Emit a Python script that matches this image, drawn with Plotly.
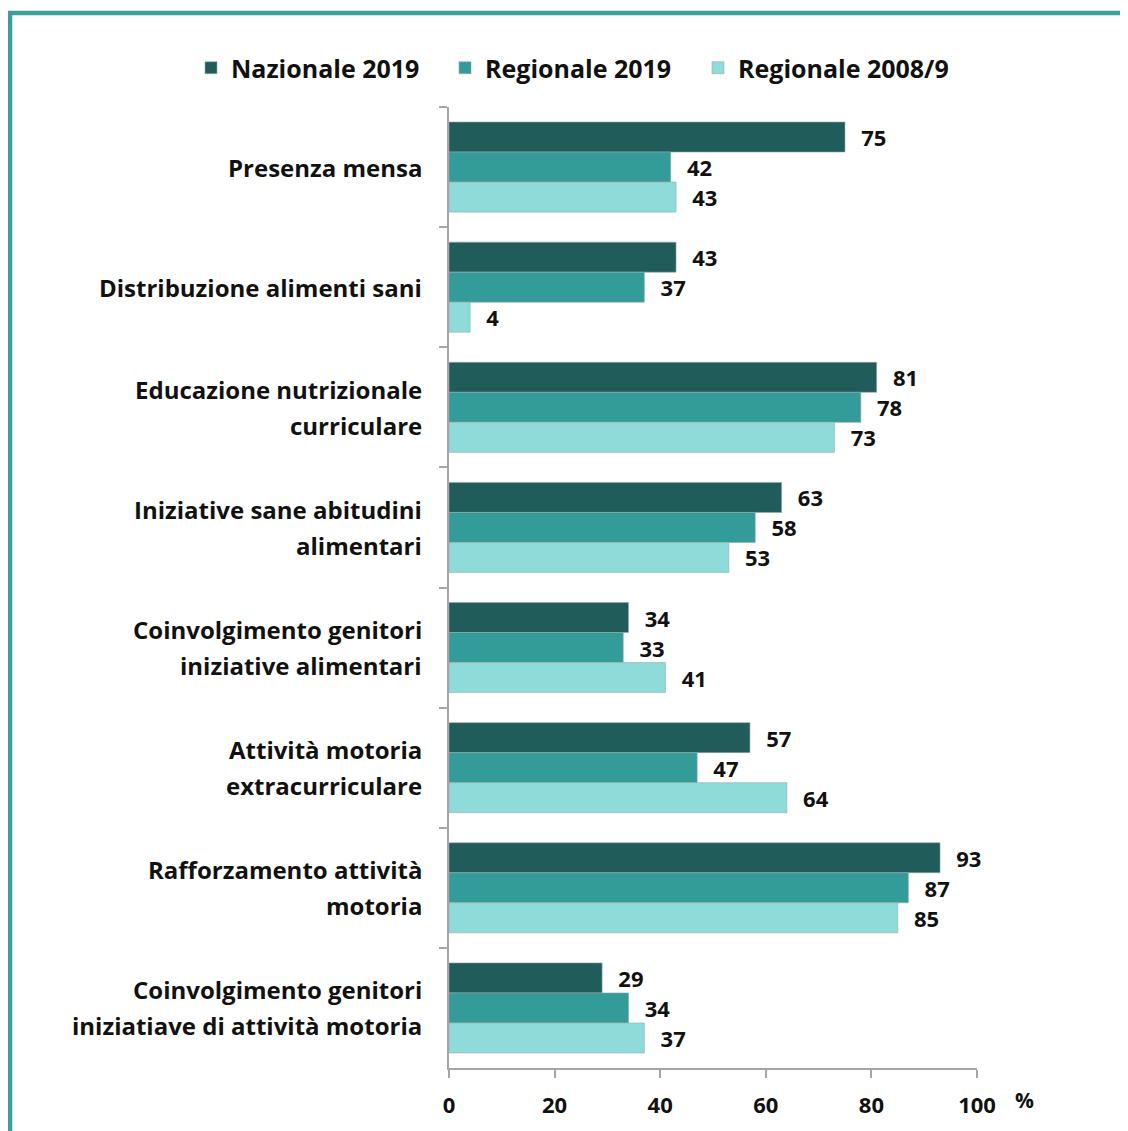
import plotly.graph_objects as go

categories = [
    "Presenza mensa",
    "Distribuzione alimenti sani",
    "Educazione nutrizionale<br>curriculare",
    "Iniziative sane abitudini<br>alimentari",
    "Coinvolgimento genitori<br>iniziative alimentari",
    "Attività motoria<br>extracurriculare",
    "Rafforzamento attività<br>motoria",
    "Coinvolgimento genitori<br>iniziatiave di attività motoria",
]
nazionale_2019 = [75, 43, 81, 63, 34, 57, 93, 29]
regionale_2019 = [42, 37, 78, 58, 33, 47, 87, 34]
regionale_2008 = [43, 4, 73, 53, 41, 64, 85, 37]
series_names = ["Nazionale 2019", "Regionale 2019", "Regionale 2008/9"]
colors = ["#1f5c5a", "#339b98", "#8fdbd9"]
x_ticks = [0, 20, 40, 60, 80, 100]

FONT = "Open Sans"
OFF = 8  # page body margin
W, H = 1128 - OFF, 1131 - OFF
L = 449 - OFF
R = W - (977 - OFF)
T = 107 - OFF
B = H - (1068 - OFF)
pw, ph = W - L - R, H - T - B


def px(x):
    return (x - OFF - L) / pw


def py(y):
    return (H - B - (y - OFF)) / ph


legend_ids = ["legend", "legend2", "legend3"]
legend_text_x = [231, 485, 738]

fig = go.Figure()
for name, vals, col, lg in zip(series_names, [nazionale_2019, regionale_2019, regionale_2008], colors, legend_ids):
    fig.add_trace(go.Bar(
        y=categories, x=vals, name=name, orientation="h", legend=lg,
        marker=dict(color=col, line=dict(color="#9aa8a8", width=0.6)),
        text=vals, texttemplate="\u2002\u200a%{x}", textposition="outside",
        textfont=dict(family=FONT, size=22, color="#111111", weight="bold"),
        cliponaxis=False,
    ))

legend_common = dict(font=dict(family=FONT, size=25, color="#111111", weight="bold"),
                     itemwidth=30, bgcolor="rgba(0,0,0,0)", xanchor="left", yanchor="middle")
legend_layouts = {}
for lg, tx in zip(legend_ids, legend_text_x):
    legend_layouts[lg] = dict(legend_common, x=px(tx - 40), y=py(68))

# category labels as annotations (wider line spacing than tick labels allow)
annotations = []
for cat in categories:
    lines = cat.split("<br>")
    n = len(lines)
    for i, line in enumerate(lines):
        annotations.append(dict(
            text=line, xref="paper", yref="y", x=px(424), y=cat, xanchor="right", yanchor="middle",
            yshift=(n - 1) * 18 - i * 36, showarrow=False,
            font=dict(family=FONT, size=24, color="#111111", weight="bold"),
        ))
annotations.append(dict(text="%", xref="paper", yref="paper", x=px(1024), y=py(1100),
                        xanchor="center", yanchor="middle", showarrow=False,
                        font=dict(family=FONT, size=21, color="#111111", weight="bold")))

fig.update_layout(
    width=W, height=H,
    margin=dict(l=L, r=R, t=T, b=B, autoexpand=False),
    paper_bgcolor="white", plot_bgcolor="white",
    barmode="group", bargap=0.25, bargroupgap=0,
    font=dict(family=FONT, size=22, color="#111111", weight="bold"),
    showlegend=True,
    xaxis=dict(range=[0, 100], tickvals=x_ticks, ticks="outside", ticklen=8, tickcolor="#a6a6a6",
               tickwidth=1.5, showline=True, linecolor="#a6a6a6", linewidth=1.5, showgrid=False,
               zeroline=False, tickfont=dict(family=FONT, size=22, color="#111111", weight="bold"),
               ticklabelstandoff=9),
    yaxis=dict(autorange="reversed", ticks="outside", ticklen=8, tickcolor="#a6a6a6", tickwidth=1.5,
               tickson="boundaries", showline=True, linecolor="#a6a6a6", linewidth=1.5,
               showgrid=False, showticklabels=False),
    shapes=[
        dict(type="line", xref="paper", yref="paper", x0=px(8), x1=px(1140), y0=py(13), y1=py(13),
             line=dict(color="#3a9e9a", width=4.5)),
        dict(type="line", xref="paper", yref="paper", x0=px(10), x1=px(10), y0=py(11), y1=py(1140),
             line=dict(color="#3a9e9a", width=4.5)),
    ],
    annotations=annotations,
    **legend_layouts,
)
fig.write_html("out.html")
